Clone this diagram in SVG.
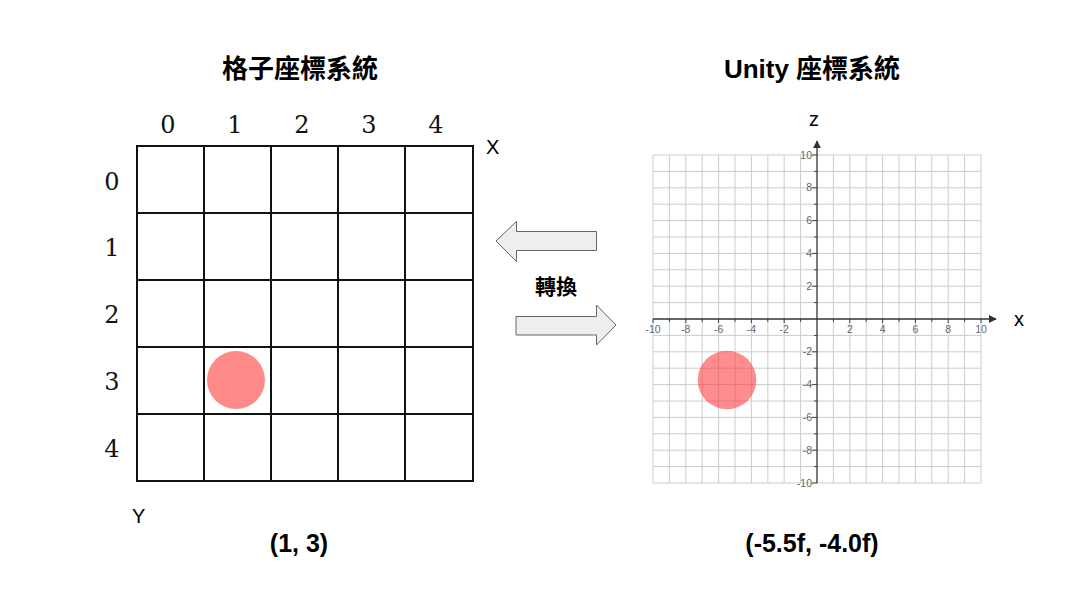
<svg xmlns="http://www.w3.org/2000/svg" width="1087" height="612" viewBox="0 0 1087 612">
<style>
.title{font-family:"Liberation Sans","Noto Sans CJK TC",sans-serif;font-weight:bold;font-size:26px;fill:#000;text-anchor:middle}
.lbl{font-family:"Liberation Sans",sans-serif;font-weight:bold;font-size:25px;fill:#000;text-anchor:middle}
.num{font-family:"DejaVu Serif",serif;font-size:24px;fill:#111;text-anchor:middle}
.ax{font-family:"Liberation Sans",sans-serif;font-size:20px;fill:#000}
.tk{font-family:"Liberation Sans",sans-serif;font-size:10.5px;fill:#666}
.cell{fill:none;stroke:#111;stroke-width:2}
.arr{fill:#eeeeee;stroke:#666;stroke-width:1}
</style>
<defs>
<marker id="ah" viewBox="0 0 10 10" refX="9" refY="5" markerWidth="8" markerHeight="8" markerUnits="userSpaceOnUse" orient="auto">
<path d="M0,0 L10,5 L0,10 Z" fill="#333"/>
</marker>
</defs>
<rect width="1087" height="612" fill="#fff"/>

<g id="left-title"><text class="title" x="300" y="78">格子座標系統</text></g>
<g id="right-title"><text class="title" x="812" y="78">Unity 座標系統</text></g>

<g id="grid-left">
<path class="cell" d="M137,146 H473 V481 H137 Z M204,146 V481 M271,146 V481 M338,146 V481 M405,146 V481 M137,213 H473 M137,280 H473 M137,347 H473 M137,414 H473"/>
<text class="num" x="168" y="133">0</text>
<text class="num" x="235" y="133">1</text>
<text class="num" x="302" y="133">2</text>
<text class="num" x="369" y="133">3</text>
<text class="num" x="436" y="133">4</text>
<text class="num" x="112" y="190">0</text>
<text class="num" x="112" y="256">1</text>
<text class="num" x="112" y="323">2</text>
<text class="num" x="112" y="390">3</text>
<text class="num" x="112" y="457">4</text>
<text class="ax" x="486" y="154">X</text>
<text class="ax" x="132" y="523">Y</text>
</g>
<g id="grid-point"><circle cx="236" cy="380" r="29" fill="#ff8a8a"/></g>

<g id="label-left"><text class="lbl" x="299" y="552">(1, 3)</text></g>
<g id="label-right"><text class="lbl" x="812" y="552">(-5.5f, -4.0f)</text></g>

<g id="convert">
<path class="arr" d="M596.5,231.5 H516.5 V221.5 L496,241 L516.5,261.5 V250.5 H596.5 Z"/>
<path class="arr" d="M516,316.5 H596.5 V305 L616,325 L596.5,345 V335 H516 Z"/>
<text class="title" x="556" y="294" style="font-size:21px">轉換</text>
</g>

<g id="unity-grid">
<path fill="none" stroke="#cccccc" stroke-width="1" d="M653,155 V483 M669.4,155 V483 M685.8,155 V483 M702.2,155 V483 M718.6,155 V483 M735,155 V483 M751.4,155 V483 M767.8,155 V483 M784.2,155 V483 M800.6,155 V483 M833.4,155 V483 M849.8,155 V483 M866.2,155 V483 M882.6,155 V483 M899,155 V483 M915.4,155 V483 M931.8,155 V483 M948.2,155 V483 M964.6,155 V483 M981,155 V483 M653,155 H981 M653,171.4 H981 M653,187.8 H981 M653,204.2 H981 M653,220.6 H981 M653,237 H981 M653,253.4 H981 M653,269.8 H981 M653,286.2 H981 M653,302.6 H981 M653,335.4 H981 M653,351.8 H981 M653,368.2 H981 M653,384.6 H981 M653,401 H981 M653,417.4 H981 M653,433.8 H981 M653,450.2 H981 M653,466.6 H981 M653,483 H981"/>
</g>

<g id="unity-axes">
<line x1="817" y1="483" x2="817" y2="141" stroke="#333" stroke-width="1.3" marker-end="url(#ah)"/>
<line x1="653" y1="319" x2="996" y2="319" stroke="#333" stroke-width="1.3" marker-end="url(#ah)"/>
<path fill="none" stroke="#444" stroke-width="1" d="M812,155 H817 M814,171.4 H817 M812,187.8 H817 M814,204.2 H817 M812,220.6 H817 M814,237 H817 M812,253.4 H817 M814,269.8 H817 M812,286.2 H817 M814,302.6 H817 M814,335.4 H817 M812,351.8 H817 M814,368.2 H817 M812,384.6 H817 M814,401 H817 M812,417.4 H817 M814,433.8 H817 M812,450.2 H817 M814,466.6 H817 M812,483 H817 M653,319 V323 M669.4,319 V322 M685.8,319 V323 M702.2,319 V322 M718.6,319 V323 M735,319 V322 M751.4,319 V323 M767.8,319 V322 M784.2,319 V323 M800.6,319 V322 M833.4,319 V322 M849.8,319 V323 M866.2,319 V322 M882.6,319 V323 M899,319 V322 M915.4,319 V323 M931.8,319 V322 M948.2,319 V323 M964.6,319 V322 M981,319 V323"/>
<g class="tk" text-anchor="end">
<text x="812" y="158.5">10</text>
<text x="812" y="191.3">8</text>
<text x="812" y="224.1">6</text>
<text x="812" y="256.9">4</text>
<text x="812" y="289.7">2</text>
<text x="812" y="355.3">-2</text>
<text x="812" y="388.1">-4</text>
<text x="812" y="420.9">-6</text>
<text x="812" y="453.7">-8</text>
<text x="812" y="486.5">-10</text>
</g>
<g class="tk" text-anchor="middle">
<text x="653" y="333">-10</text>
<text x="685.8" y="333">-8</text>
<text x="718.6" y="333">-6</text>
<text x="751.4" y="333">-4</text>
<text x="784.2" y="333">-2</text>
<text x="849.8" y="333">2</text>
<text x="882.6" y="333">4</text>
<text x="915.4" y="333">6</text>
<text x="948.2" y="333">8</text>
<text x="981" y="333">10</text>
</g>
<text class="ax" x="809" y="126">z</text>
<text class="ax" x="1014" y="326">x</text>
</g>
<g id="unity-point"><circle cx="727" cy="380" r="29.3" fill="#ff3b3b" fill-opacity="0.58"/></g>
</svg>
